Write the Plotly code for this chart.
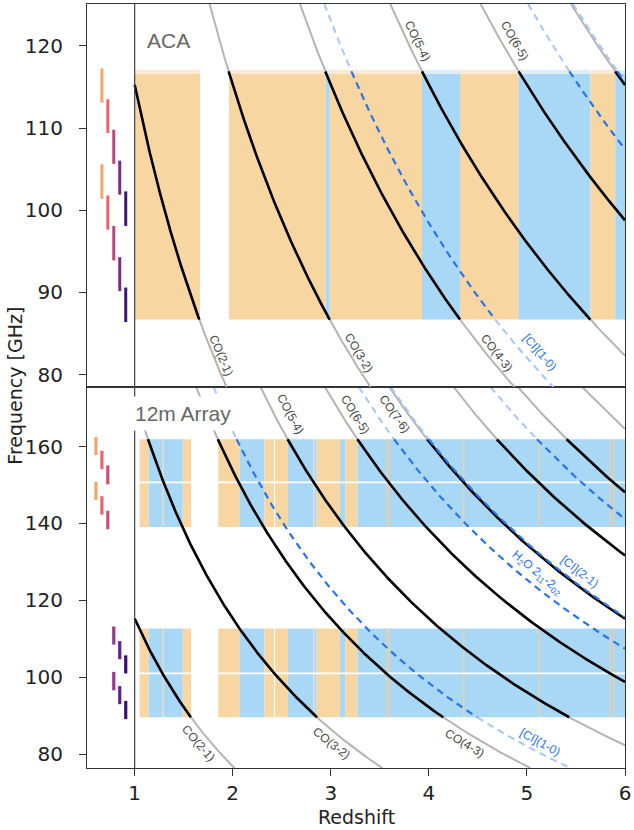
import numpy as np
import plotly.graph_objects as go

# ---------------- data ----------------
X_RANGE = [0.514, 6.0]
Y_RANGE_ACA = [78.5, 125.1]
Y_RANGE_12M = [76.4, 175.5]
X_TICKS = [1, 2, 3, 4, 5, 6]
Y_TICKS_ACA = [80, 90, 100, 110, 120]
Y_TICKS_12M = [80, 100, 120, 140, 160]

# rest frequencies [GHz]
CO_LABELS = ["CO(2-1)", "CO(3-2)", "CO(4-3)", "CO(5-4)", "CO(6-5)",
             "CO(7-6)", "CO(8-7)", "CO(9-8)", "CO(10-9)"]
CO_REST = [230.538, 345.796, 461.041, 576.268, 691.473,
           806.652, 921.800, 1036.912, 1151.985]
DASH_LABELS = ["[CI](1-0)", "[CI](2-1)", "H2O 2_11-2_02", "H2O 2_02-1_11"]
DASH_REST = [492.161, 809.342, 752.033, 987.927]

# ACA coverage (frequency band, redshift segments)
ACA_BAND = [86.7, 116.6]
ACA_BAND_EDGE = [116.6, 117.1]
ACA_LINE_RANGE = [86.7, 116.9]
ACA_SEG_START = [1.0, 1.962, 2.948, 2.99, 3.93, 4.318, 4.915, 5.647, 5.90]
ACA_SEG_END = [1.665, 2.948, 2.99, 3.93, 4.318, 4.915, 5.647, 5.90, 6.0]
ACA_SEG_KIND = ["O", "O", "B", "O", "B", "O", "B", "O", "B"]

# 12m array coverage
ARR_ROW_LO = [89.6, 139.1]
ARR_ROW_HI = [112.7, 161.9]
ARR_ROW_GAP = [101.0, 150.7]
ARR_LINE_RANGE = [89.6, 161.9]
ARR_SEG_START = [1.05, 1.142, 1.282, 1.296, 1.49, 1.852, 2.07, 2.322, 2.432,
                 2.562, 2.822, 2.832, 2.856, 3.092, 3.148, 3.272]
ARR_SEG_END = [1.142, 1.282, 1.296, 1.49, 1.575, 2.07, 2.322, 2.42, 2.562,
               2.822, 2.832, 2.856, 3.092, 3.148, 3.272, 6.0]
ARR_SEG_KIND = ["O", "B", "T", "B", "O", "O", "B", "O", "O",
                "B", "O", "B", "O", "B", "O", "B"]
ARR_THIN_START = [3.560, 3.586, 4.350, 5.114, 5.843, 5.878]
ARR_THIN_END = [3.571, 3.597, 4.361, 5.125, 5.854, 5.889]

# tuning bars (left of z = 1)
ACA_TUNE_X = [0.666, 0.726, 0.787, 0.848, 0.909]
ACA_TUNE_LO_A = [113.1, 109.4, 105.65, 101.9, 98.1]
ACA_TUNE_HI_A = [117.25, 113.5, 109.8, 106.05, 102.3]
ACA_TUNE_LO_B = [101.4, 97.65, 93.9, 90.16, 86.4]
ACA_TUNE_HI_B = [105.6, 101.8, 98.1, 94.3, 90.6]
ACA_TUNE_COLORS = ["#f5a36c", "#e8656b", "#c0447c", "#7c2a8d", "#3b1672"]

ARR_TUNE_X = [0.605, 0.666, 0.726, 0.787, 0.848, 0.909]
ARR_TUNE_LO_A = [157.8, 154.1, 150.2, 108.5, 104.7, 101.0]
ARR_TUNE_HI_A = [162.5, 158.9, 155.1, 113.2, 109.4, 105.7]
ARR_TUNE_LO_B = [146.1, 142.3, 138.5, 96.6, 93.0, 89.1]
ARR_TUNE_HI_B = [150.8, 147.1, 143.3, 101.4, 97.7, 93.85]
ARR_TUNE_COLORS = ["#f5a36c", "#e8656b", "#cf4d73", "#9a3590", "#6b1e88", "#3b0f70"]

# ---------------- style ----------------
FILL = {"O": "#f8d6a2", "B": "#a9d7f6", "T": "#d9cfb3"}
PALE = {"O": "#fcead3", "B": "#dcedf9", "T": "#ece6d8"}
GREY = "#b4b4b4"
BLACK = "#000000"
LIGHT_BLUE = "#a9c7f4"
DARK_BLUE = "#2b74e6"
DASH = "7px,5px"
Z_MIN, Z_MAX = 1.0, 6.0

fig = go.Figure()
shapes = []


def curve(rest, za, zb, n=300):
    zz = np.linspace(za, zb, n)
    return list(zz), list(rest / (1 + zz))


def zr(rest, lo, hi):
    return max(Z_MIN, rest / hi - 1), min(Z_MAX, rest / lo - 1)


def panel(xa, ya, yrange, line_range):
    gx, gy, bx, by, lx, ly, dx, dy = [], [], [], [], [], [], [], []
    lo, hi = line_range
    for r in CO_REST:
        ztop = max(Z_MIN, r / yrange[1] - 1)
        zbot = min(Z_MAX, r / yrange[0] - 1)
        if ztop < zbot:
            x, y = curve(r, ztop, zbot)
            gx += x + [None]; gy += y + [None]
        za, zb = zr(r, lo, hi)
        if za < zb:
            x, y = curve(r, za, zb)
            bx += x + [None]; by += y + [None]
    for r in DASH_REST:
        ztop = max(Z_MIN, r / yrange[1] - 1)
        zbot = min(Z_MAX, r / yrange[0] - 1)
        if ztop >= zbot:
            continue
        za, zb = zr(r, lo, hi)
        if za < zb:
            x, y = curve(r, za, zb)
            dx += x + [None]; dy += y + [None]
            if ztop < za:
                x, y = curve(r, ztop, za, 100)
                lx += x + [None]; ly += y + [None]
            if zb < zbot:
                x, y = curve(r, zb, zbot, 100)
                lx += x + [None]; ly += y + [None]
        else:
            x, y = curve(r, ztop, zbot)
            lx += x + [None]; ly += y + [None]
    common = dict(mode="lines", xaxis=xa, yaxis=ya, hoverinfo="skip", showlegend=False)
    fig.add_trace(go.Scatter(x=gx, y=gy, line=dict(color=GREY, width=2), **common))
    fig.add_trace(go.Scatter(x=bx, y=by, line=dict(color=BLACK, width=2.6), **common))
    fig.add_trace(go.Scatter(x=lx, y=ly, line=dict(color=LIGHT_BLUE, width=2, dash=DASH), **common))
    fig.add_trace(go.Scatter(x=dx, y=dy, line=dict(color=DARK_BLUE, width=2.2, dash=DASH), **common))


def tune(xa, ya, xs, los, his, cols, width):
    for i, c in enumerate(cols):
        fig.add_trace(go.Scatter(
            x=[xs[i], xs[i], None, xs[i], xs[i]],
            y=[los[0][i], his[0][i], None, los[1][i], his[1][i]],
            mode="lines", line=dict(color=c, width=width),
            xaxis=xa, yaxis=ya, hoverinfo="skip", showlegend=False))


# ---- ACA bands (top panel) ----
for s, e, k in zip(ACA_SEG_START, ACA_SEG_END, ACA_SEG_KIND):
    shapes.append(dict(type="rect", xref="x2", yref="y2", x0=s, x1=e,
                       y0=ACA_BAND[0], y1=ACA_BAND[1], fillcolor=FILL[k],
                       line_width=0, layer="below"))
    shapes.append(dict(type="rect", xref="x2", yref="y2", x0=s, x1=e,
                       y0=ACA_BAND_EDGE[0], y1=ACA_BAND_EDGE[1], fillcolor=PALE[k],
                       line_width=0, layer="below"))

# ---- 12m bands (bottom panel) ----
for lo, hi in zip(ARR_ROW_LO, ARR_ROW_HI):
    for s, e, k in zip(ARR_SEG_START, ARR_SEG_END, ARR_SEG_KIND):
        shapes.append(dict(type="rect", xref="x", yref="y", x0=s, x1=e, y0=lo, y1=hi,
                           fillcolor=FILL[k], line_width=0, layer="below"))
    for s, e in zip(ARR_THIN_START, ARR_THIN_END):
        shapes.append(dict(type="rect", xref="x", yref="y", x0=s, x1=e, y0=lo, y1=hi,
                           fillcolor="#f7cf98", line_width=0, layer="below"))
for g in ARR_ROW_GAP:
    shapes.append(dict(type="rect", xref="x", yref="y", x0=1.0, x1=6.0,
                       y0=g - 0.22, y1=g + 0.22, fillcolor="white",
                       line_width=0, layer="below"))

# z = 1 separators
shapes.append(dict(type="line", xref="x2", yref="y2 domain", x0=1, x1=1, y0=0, y1=1,
                   line=dict(color="#444444", width=1.2)))
shapes.append(dict(type="line", xref="x", yref="y domain", x0=1, x1=1, y0=0, y1=1,
                   line=dict(color="#444444", width=1.2)))

panel("x2", "y2", Y_RANGE_ACA, ACA_LINE_RANGE)
panel("x", "y", Y_RANGE_12M, ARR_LINE_RANGE)

tune("x2", "y2", ACA_TUNE_X, [ACA_TUNE_LO_A, ACA_TUNE_LO_B],
     [ACA_TUNE_HI_A, ACA_TUNE_HI_B], ACA_TUNE_COLORS, 3)
tune("x", "y", ARR_TUNE_X, [ARR_TUNE_LO_A, ARR_TUNE_LO_B],
     [ARR_TUNE_HI_A, ARR_TUNE_HI_B], ARR_TUNE_COLORS, 3.2)

# ---------------- annotations ----------------
LBL_FONT = dict(family="Liberation Sans, Arial, sans-serif", size=12, color="#444444")
BLUE_FONT = dict(family="Liberation Sans, Arial, sans-serif", size=12, color=DARK_BLUE)
ann = []


def lab(text, x, y, ang, xr, yr, font):
    ann.append(dict(text=text, x=x, y=y, xref=xr, yref=yr, textangle=ang,
                    showarrow=False, font=font, xanchor="center", yanchor="middle"))


# top panel
lab("CO(2-1)", 1.881, 82.4, 67, "x2", "y2", LBL_FONT)
lab("CO(3-2)", 3.287, 82.64, 59, "x2", "y2", LBL_FONT)
lab("CO(4-3)", 4.694, 82.64, 52, "x2", "y2", LBL_FONT)
lab("[CI](1-0)", 5.13, 82.76, 49, "x2", "y2", BLUE_FONT)
lab("CO(5-4)", 3.885, 120.6, 64, "x2", "y2", LBL_FONT)
lab("CO(6-5)", 4.877, 120.6, 60, "x2", "y2", LBL_FONT)
# bottom panel
lab("CO(5-4)", 2.589, 168.5, 62, "x", "y", LBL_FONT)
lab("CO(6-5)", 3.247, 168.5, 58, "x", "y", LBL_FONT)
lab("CO(7-6)", 3.652, 168.5, 54, "x", "y", LBL_FONT)
lab("CO(2-1)", 1.648, 82.9, 49, "x", "y", LBL_FONT)
lab("CO(3-2)", 3.004, 82.9, 38, "x", "y", LBL_FONT)
lab("CO(4-3)", 4.36, 82.9, 31, "x", "y", LBL_FONT)
lab("[CI](1-0)", 5.13, 83.1, 29, "x", "y", BLUE_FONT)
lab("H<sub>2</sub>O 2<sub>11</sub>-2<sub>02</sub>", 5.10, 127.0, 40, "x", "y", BLUE_FONT)
lab("[CI](2-1)", 5.545, 127.5, 38, "x", "y", BLUE_FONT)

TITLE_FONT = dict(family="Liberation Sans, Arial, sans-serif", size=21, color="#666666")
ann.append(dict(text="ACA", x=1.11, y=120.7, xref="x2", yref="y2", showarrow=False,
                xanchor="left", yanchor="middle", font=TITLE_FONT))
ann.append(dict(text="12m Array", x=1.0, y=168.6, xref="x", yref="y", showarrow=False,
                xanchor="left", yanchor="middle", font=TITLE_FONT, bgcolor="white",
                borderpad=5, xshift=-6))

AX_FONT = dict(family="DejaVu Sans, sans-serif", size=20, color="#222222")
TITLE_AX_FONT = dict(family="DejaVu Sans, sans-serif", size=19, color="#222222")
ann.append(dict(text="Frequency [GHz]", x=-0.1345, y=0.5, xref="paper", yref="paper",
                textangle=-90, showarrow=False, font=TITLE_AX_FONT,
                xanchor="center", yanchor="middle"))
ann.append(dict(text="Redshift", x=0.5, y=-0.0635, xref="paper", yref="paper",
                showarrow=False, font=TITLE_AX_FONT, xanchor="center", yanchor="middle"))

axis_common = dict(showline=True, mirror=True, linecolor="#333333", linewidth=1,
                   showgrid=False, zeroline=False, tickfont=AX_FONT,
                   tickcolor="#333333", ticklen=7, ticks="outside")

fig.update_layout(
    width=634, height=830,
    margin=dict(l=87, r=5, t=3, b=62),
    paper_bgcolor="white", plot_bgcolor="white",
    showlegend=False,
    xaxis=dict(domain=[0, 1], anchor="y", range=X_RANGE, tickvals=X_TICKS,
               ticklabelstandoff=0, ticklabeloverflow="allow", **axis_common),
    yaxis=dict(domain=[0, 0.4987], anchor="x", range=Y_RANGE_12M, tickvals=Y_TICKS_12M,
               ticklabelstandoff=12, **axis_common),
    xaxis2=dict(domain=[0, 1], anchor="y2", range=X_RANGE, matches="x",
                showticklabels=False, **{k: v for k, v in axis_common.items() if k != "ticks"},
                ticks=""),
    yaxis2=dict(domain=[0.4987, 1], anchor="x2", range=Y_RANGE_ACA, tickvals=Y_TICKS_ACA,
                ticklabelstandoff=12, **axis_common),
    shapes=shapes,
    annotations=ann,
)

fig.write_html("out.html", config={"displayModeBar": False},
               post_script="document.body.style.margin='0';document.body.style.overflow='hidden';")
